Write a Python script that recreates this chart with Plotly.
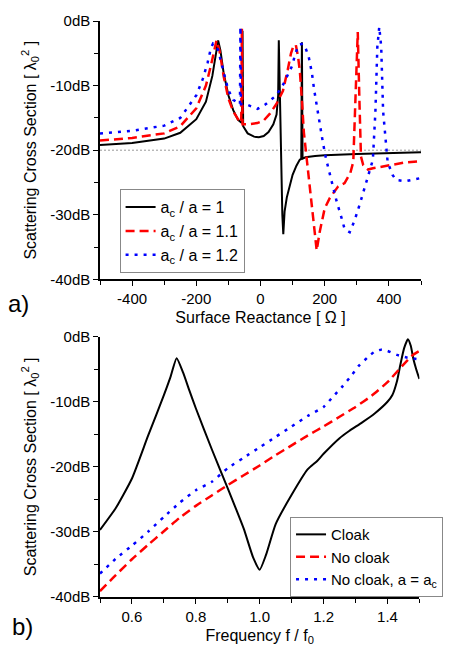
import plotly.graph_objects as go

# ---------------- Panel a) : Surface reactance sweep ----------------
reactance_ac1 = [-500, -400, -300, -250, -200, -170, -150, -140, -132, -125, -115, -100, -85, -70, -58,
                 -56, -54, -40, -20, -5, 10, 25, 40, 50, 55, 57, 60, 64, 68, 71, 75, 82, 90, 100, 112,
                 122, 127, 129, 131, 140, 170, 200, 300, 400, 500]
scs_ac1 = [-19.2, -18.9, -18.2, -17.3, -15.2, -12.5, -8.5, -5.5, -3.0, -4.5, -8.0, -11.5, -13.8, -15.3, -15.8,
           -1.5, -16.3, -17.4, -17.9, -18.0, -17.8, -17.2, -16.0, -14.5, -11.5, -3.0, -12.0, -22.0, -30.0, -33.0, -29.5, -27.3, -25.6, -23.8, -22.4,
           -21.5, -21.3, -3.3, -21.3, -21.1, -20.9, -20.8, -20.6, -20.4, -20.3]

reactance_ac11 = [-500, -400, -300, -250, -200, -170, -155, -145, -137, -128, -115, -100, -85, -70, -60,
                  -58, -56, -40, -25, -10, 10, 30, 50, 70, 85, 95, 103, 110, 117, 123, 130, 135, 145,
                  160, 175, 185, 200, 216, 242, 262, 280, 289, 296, 303, 308, 313, 320, 335, 350, 400, 450, 500]
scs_ac11 = [-18.5, -18.1, -17.4, -16.3, -13.5, -10.0, -7.0, -4.5, -3.0, -4.5, -8.5, -12.0, -14.0, -15.2, -15.7,
            -1.2, -16.0, -16.0, -15.9, -15.8, -15.4, -14.3, -12.8, -10.8, -7.5, -5.0, -3.8, -3.7, -5.5, -8.0, -13.0, -17.2, -21.8,
            -29.0, -35.5, -32.5, -29.0, -27.4, -25.6, -25.1, -23.5, -21.8, -12.0, -1.7, -12.0, -21.0, -22.3, -23.0, -22.8, -22.3, -21.9, -21.7]

reactance_ac12 = [-500, -400, -300, -250, -200, -180, -165, -155, -148, -140, -132, -117, -101, -85, -70, -64,
                  -62.5, -61, -45, -9, 16, 47, 68, 83, 98, 109, 119, 132, 139, 150, 160, 167, 175, 186, 194, 204,
                  216, 227, 237, 252, 262, 278, 293, 309, 324, 339, 350, 358, 364, 370, 376, 382, 396, 411, 422, 452, 483, 500]
scs_ac12 = [-17.4, -17.0, -16.2, -15.0, -11.5, -9.0, -6.5, -4.3, -3.5, -3.8, -4.5, -7.5, -10.6, -12.2, -12.8, -12.9,
            -0.9, -12.9, -12.9, -13.6, -12.9, -11.6, -10.1, -8.5, -7.0, -5.0, -3.7, -3.5, -4.0, -5.5, -8.0, -10.6, -13.1, -16.7, -18.7, -21.3,
            -23.8, -25.8, -27.9, -30.4, -32.2, -32.7, -30.9, -28.4, -25.8, -23.3, -21.5, -14.0, -4.0, -0.9, -4.0, -14.0, -21.8, -23.8, -24.6, -24.8, -24.4, -24.3]

# ---------------- Panel b) : Frequency sweep ----------------
freq_cloak = [0.50, 0.55, 0.60, 0.65, 0.70, 0.72, 0.74, 0.76, 0.78, 0.80, 0.85, 0.90, 0.95, 0.98, 1.00, 1.02,
              1.05, 1.10, 1.15, 1.18, 1.20, 1.25, 1.28, 1.32, 1.36, 1.40, 1.415, 1.43, 1.44, 1.452, 1.464, 1.473, 1.481, 1.49, 1.50]
scs_cloak = [-29.7, -26.3, -21.8, -15.3, -9.0, -6.3, -3.3, -5.5, -8.3, -11.0, -17.3, -23.3, -29.5, -34.0, -35.8, -33.5,
             -28.8, -24.3, -20.4, -19.1, -18.0, -15.6, -14.5, -13.2, -11.8, -10.0, -9.0, -6.8, -4.4, -1.8, -0.4, -1.4, -3.4, -5.0, -6.5]

freq_nocloak = [0.50, 0.55, 0.60, 0.65, 0.70, 0.75, 0.80, 0.85, 0.90, 0.95, 1.00, 1.05, 1.10, 1.15, 1.20, 1.25,
                1.30, 1.35, 1.40, 1.45, 1.48, 1.50]
scs_nocloak = [-39.1, -36.6, -34.2, -32.0, -29.9, -27.8, -26.0, -24.4, -22.8, -21.3, -19.8, -18.2, -16.7, -15.2, -13.8, -12.3,
               -10.8, -9.1, -7.0, -4.3, -2.8, -2.2]

freq_nocloak_ac = [0.50, 0.55, 0.60, 0.65, 0.70, 0.75, 0.80, 0.85, 0.90, 0.95, 1.00, 1.05, 1.10, 1.15, 1.20, 1.23,
                   1.26, 1.29, 1.31, 1.34, 1.36, 1.38, 1.40, 1.43, 1.46, 1.50]
scs_nocloak_ac = [-36.4, -34.1, -32.1, -30.0, -27.7, -25.5, -23.6, -22.3, -20.2, -18.6, -17.0, -15.4, -13.8, -12.2, -10.8, -9.2,
                  -7.6, -5.8, -4.5, -3.1, -2.3, -2.0, -2.2, -2.8, -3.2, -3.5]

# tick labels
x1_tickvals = [-400, -200, 0, 200, 400]
x1_ticktext = ["-400", "-200", "0", "200", "400"]
x1_minor = [-500, -300, -100, 100, 300, 500]
x2_tickvals = [0.6, 0.8, 1.0, 1.2, 1.4]
x2_ticktext = ["0.6", "0.8", "1.0", "1.2", "1.4"]
x2_minor = [0.5, 0.7, 0.9, 1.1, 1.3, 1.5]
y_tickvals = [-40, -30, -20, -10, 0]
y_ticktext = ["-40dB", "-30dB", "-20dB", "-10dB", "0dB"]
y_minor = [-35, -25, -15, -5]

FONT = "Liberation Sans, Arial, sans-serif"
BLACK = "#000000"
RED = "#ff0000"
BLUE = "#0000ff"

fig = go.Figure()

fig.add_trace(go.Scatter(x=reactance_ac1, y=scs_ac1, mode="lines", name="a<sub>c</sub> / a = 1",
                         line=dict(color=BLACK, width=2), xaxis="x", yaxis="y", legend="legend"))
fig.add_trace(go.Scatter(x=reactance_ac11, y=scs_ac11, mode="lines", name="a<sub>c</sub> / a = 1.1",
                         line=dict(color=RED, width=2.5, dash="9px,5px"), xaxis="x", yaxis="y", legend="legend"))
fig.add_trace(go.Scatter(x=reactance_ac12, y=scs_ac12, mode="lines", name="a<sub>c</sub> / a = 1.2",
                         line=dict(color=BLUE, width=2.5, dash="3px,6px"), xaxis="x", yaxis="y", legend="legend"))

fig.add_trace(go.Scatter(x=freq_cloak, y=scs_cloak, mode="lines", name="Cloak",
                         line=dict(color=BLACK, width=2, shape="spline", smoothing=0.5),
                         xaxis="x2", yaxis="y2", legend="legend2"))
fig.add_trace(go.Scatter(x=freq_nocloak, y=scs_nocloak, mode="lines", name="No cloak",
                         line=dict(color=RED, width=2.5, dash="9px,5px", shape="spline", smoothing=0.5),
                         xaxis="x2", yaxis="y2", legend="legend2"))
fig.add_trace(go.Scatter(x=freq_nocloak_ac, y=scs_nocloak_ac, mode="lines", name="No cloak, a = a<sub>c</sub>",
                         line=dict(color=BLUE, width=2.5, dash="3px,6px", shape="spline", smoothing=0.5),
                         xaxis="x2", yaxis="y2", legend="legend2"))

# -20 dB reference line in panel a
fig.add_shape(type="line", xref="x", yref="y", x0=-500, x1=500, y0=-20, y1=-20,
              line=dict(color="#999999", width=1, dash="2px,2px"), layer="below")

tickfont = dict(family=FONT, size=15, color=BLACK)
titlefont = dict(family=FONT, size=16, color=BLACK)

def xaxis(domain, rng, tv, tt, minor, title, anchor):
    return dict(domain=domain, range=rng, tickmode="array", tickvals=tv, ticktext=tt,
                showline=True, linecolor=BLACK, linewidth=1.5, ticks="outside", ticklen=5,
                tickwidth=1.2, tickcolor=BLACK, showgrid=False, zeroline=False, mirror=False,
                tickfont=tickfont, anchor=anchor,
                minor=dict(tickvals=minor, ticks="outside", ticklen=4, tickwidth=1.2, tickcolor=BLACK, showgrid=False),
                title=dict(text=title, font=titlefont, standoff=6))

def yaxis(domain, anchor):
    return dict(domain=domain, range=[-40, 0], tickmode="array", tickvals=y_tickvals, ticktext=y_ticktext,
                showline=True, linecolor=BLACK, linewidth=1.5, ticks="outside", ticklen=5,
                tickwidth=1.2, tickcolor=BLACK, showgrid=False, zeroline=False, mirror=False,
                tickfont=tickfont, anchor=anchor,
                minor=dict(tickvals=y_minor, ticks="outside", ticklen=4, tickwidth=1.2, tickcolor=BLACK, showgrid=False),
                title=dict(text="Scattering Cross Section [ λ<sub>0</sub><sup>2</sup> ]", font=titlefont, standoff=10))

fig.update_layout(
    width=455, height=654,
    margin=dict(l=100, r=29, t=14, b=56),
    paper_bgcolor="white", plot_bgcolor="white",
    font=dict(family=FONT, color=BLACK),
    xaxis=xaxis([0, 1], [-500, 500], x1_tickvals, x1_ticktext, x1_minor, "Surface Reactance [ Ω ]", "y"),
    yaxis=yaxis([0.5514, 1.0], "x"),
    xaxis2=xaxis([0, 0.995], [0.5, 1.5], x2_tickvals, x2_ticktext, x2_minor, "Frequency f / f<sub>0</sub>", "y2"),
    yaxis2=yaxis([0, 0.452], "x2"),
    legend=dict(x=0.061, y=0.708, xanchor="left", yanchor="top", bgcolor="white",
                bordercolor="#888888", borderwidth=1, font=dict(family=FONT, size=16, color=BLACK),
                tracegroupgap=0),
    legend2=dict(x=0.592, y=0.1387, xanchor="left", yanchor="top", bgcolor="white",
                 bordercolor="#888888", borderwidth=1, font=dict(family=FONT, size=15, color=BLACK),
                 tracegroupgap=0),
    annotations=[
        dict(text="a)", xref="paper", yref="paper", x=-0.255, y=0.51, xanchor="center", yanchor="middle",
             showarrow=False, font=dict(family=FONT, size=24, color=BLACK)),
        dict(text="b)", xref="paper", yref="paper", x=-0.242, y=-0.051, xanchor="center", yanchor="middle",
             showarrow=False, font=dict(family=FONT, size=24, color=BLACK)),
    ],
)

fig.write_html("out.html")
